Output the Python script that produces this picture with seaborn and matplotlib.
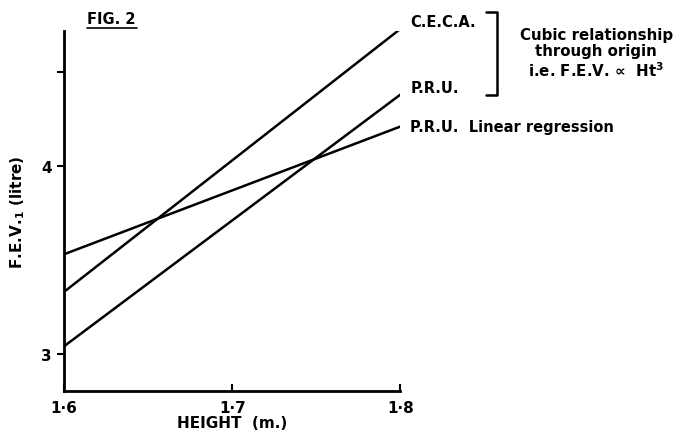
import matplotlib
matplotlib.use("Agg")
import matplotlib.pyplot as plt
import pandas as pd
import seaborn as sns
from matplotlib.lines import Line2D

# Endpoints (height in m, FEV1 in litres)
heights = [1.6, 1.8]
ceca_cubic = [3.33, 4.73]
pru_cubic = [3.04, 4.38]
pru_linear = [3.53, 4.21]

series_names = ["C.E.C.A.", "P.R.U.", "P.R.U.  Linear regression"]
x_ticks = [1.6, 1.7, 1.8]
x_tick_labels = ["1·6", "1·7", "1·8"]
y_ticks = [3, 4, 4.5]
y_tick_labels = ["3", "4", ""]

df = pd.DataFrame({
    "height": heights * 3,
    "fev": ceca_cubic + pru_cubic + pru_linear,
    "series": [n for n in series_names for _ in heights],
})

sns.set_style("white")
plt.rcParams["font.family"] = ["DejaVu Sans"]
plt.rcParams["font.weight"] = "bold"
plt.rcParams["text.color"] = "black"
plt.rcParams["axes.labelcolor"] = "black"
plt.rcParams["xtick.color"] = "black"
plt.rcParams["ytick.color"] = "black"

fig = plt.figure(figsize=(6.83, 4.31), dpi=100)
ax = fig.add_axes([0.094, 0.09, 0.492, 0.836])

sns.lineplot(data=df, x="height", y="fev", units="series", estimator=None,
             color="black", linewidth=1.8, ax=ax, legend=False)

ax.set_xlim(1.6, 1.8)
ax.set_ylim(2.8, 4.72)
ax.set_xticks(x_ticks)
ax.set_xticklabels(x_tick_labels, fontsize=11, fontweight="bold")
ax.set_yticks(y_ticks)
ax.set_yticklabels(y_tick_labels, fontsize=11, fontweight="bold")
ax.tick_params(axis="x", direction="in", length=5, width=1.5, pad=6, bottom=True)
ax.tick_params(axis="y", direction="out", length=5, width=1.5, pad=4, left=True)

for s in ["top", "right"]:
    ax.spines[s].set_visible(False)
for s in ["left", "bottom"]:
    ax.spines[s].set_linewidth(2)
    ax.spines[s].set_color("black")

ax.set_xlabel("HEIGHT  (m.)", fontsize=11, fontweight="bold", labelpad=0)
ax.set_ylabel("F.E.V.$_\\mathbf{1}$ (litre)", fontsize=11, fontweight="bold", labelpad=10)

# Line labels at the right end of each line
label_y = {"C.E.C.A.": 4.77, "P.R.U.": 4.42, "P.R.U.  Linear regression": 4.21}
for name in series_names:
    ax.text(1.806, label_y[name], name, fontsize=10.5, fontweight="bold",
            va="center", ha="left", clip_on=False)

# FIG. 2 heading
fig.text(0.128, 0.955, "FIG. 2", fontsize=10.5, fontweight="bold", ha="left", va="center")
fig.add_artist(Line2D([0.127, 0.2], [0.932, 0.932], color="black", linewidth=1.2))

# Bracket grouping the cubic curves
bx = 0.727
fig.add_artist(Line2D([bx - 0.015, bx, bx, bx - 0.015], [0.97, 0.97, 0.778, 0.778],
                      color="black", linewidth=1.8))
fig.text(0.873, 0.875, "Cubic relationship\nthrough origin\ni.e. F.E.V. ∝  Ht$^\\mathbf{3}$",
         fontsize=10.8, fontweight="bold", ha="center", va="center", linespacing=1.1)

fig.savefig("out.png", dpi=100)
